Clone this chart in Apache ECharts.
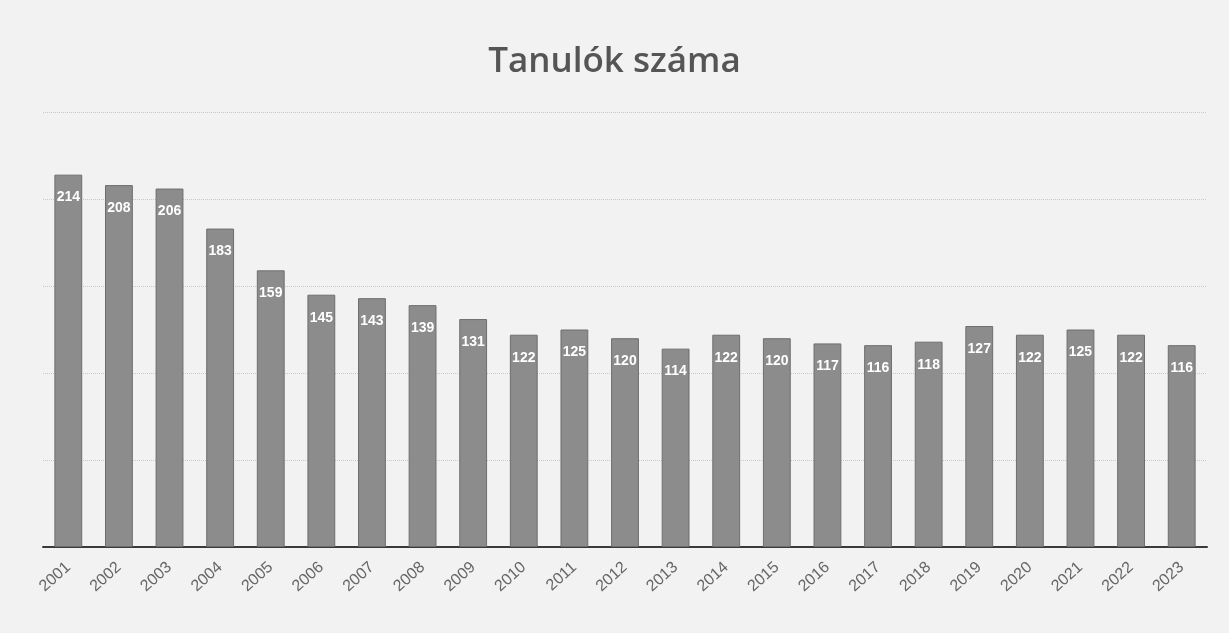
<!DOCTYPE html>
<html>
<head>
<meta charset="utf-8">
<title>Tanulók száma</title>
<script src="https://cdn.jsdelivr.net/npm/echarts@6/dist/echarts.min.js"></script>
<style>
  html, body { margin: 0; padding: 0; background: #f2f2f2; }
  #main { width: 1229px; height: 633px; }
</style>
</head>
<body>
<div id="main"></div>
<script>
// evek es tanulok szama
var years = ['2001', '2002', '2003', '2004', '2005', '2006', '2007', '2008', '2009', '2010', '2011', '2012',
  '2013', '2014', '2015', '2016', '2017', '2018', '2019', '2020', '2021', '2022', '2023'];
var students = [214, 208, 206, 183, 159, 145, 143, 139, 131, 122, 125, 120,
  114, 122, 120, 117, 116, 118, 127, 122, 125, 122, 116];

var chart = echarts.init(document.getElementById('main'), null, { renderer: 'canvas' });

chart.setOption({
  backgroundColor: '#f2f2f2',
  animation: false,
  title: {
    text: 'Tanulók száma',
    left: 'center',
    top: 40,
    textStyle: {
      fontFamily: 'Open Sans',
      fontSize: 35,
      fontWeight: 600,
      color: '#555'
    }
  },
  grid: {
    left: 43,
    right: 22,
    top: 112,
    bottom: 86
  },
  xAxis: {
    type: 'category',
    data: years,
    axisLine: { lineStyle: { color: '#3a3a3a', width: 2 } },
    axisTick: { show: false },
    axisLabel: {
      rotate: 42,
      color: '#666',
      fontSize: 16,
      margin: 18,
      fontFamily: 'Liberation Sans'
    }
  },
  yAxis: {
    type: 'value',
    min: 0,
    max: 250,
    interval: 50,
    axisLabel: { show: false },
    axisLine: { show: false },
    axisTick: { show: false },
    splitLine: { lineStyle: { color: '#c8c8c8', width: 1, type: 'dotted' } }
  },
  series: [{
    type: 'bar',
    data: students,
    barWidth: '55%',
    itemStyle: { color: '#8c8c8c', borderColor: '#6e6e6e', borderWidth: 1 },
    label: {
      show: true,
      position: 'insideTop',
      distance: 16,
      color: '#fff',
      fontSize: 14,
      fontWeight: 'bold',
      fontFamily: 'Liberation Sans'
    }
  }]
});
</script>
</body>
</html>
